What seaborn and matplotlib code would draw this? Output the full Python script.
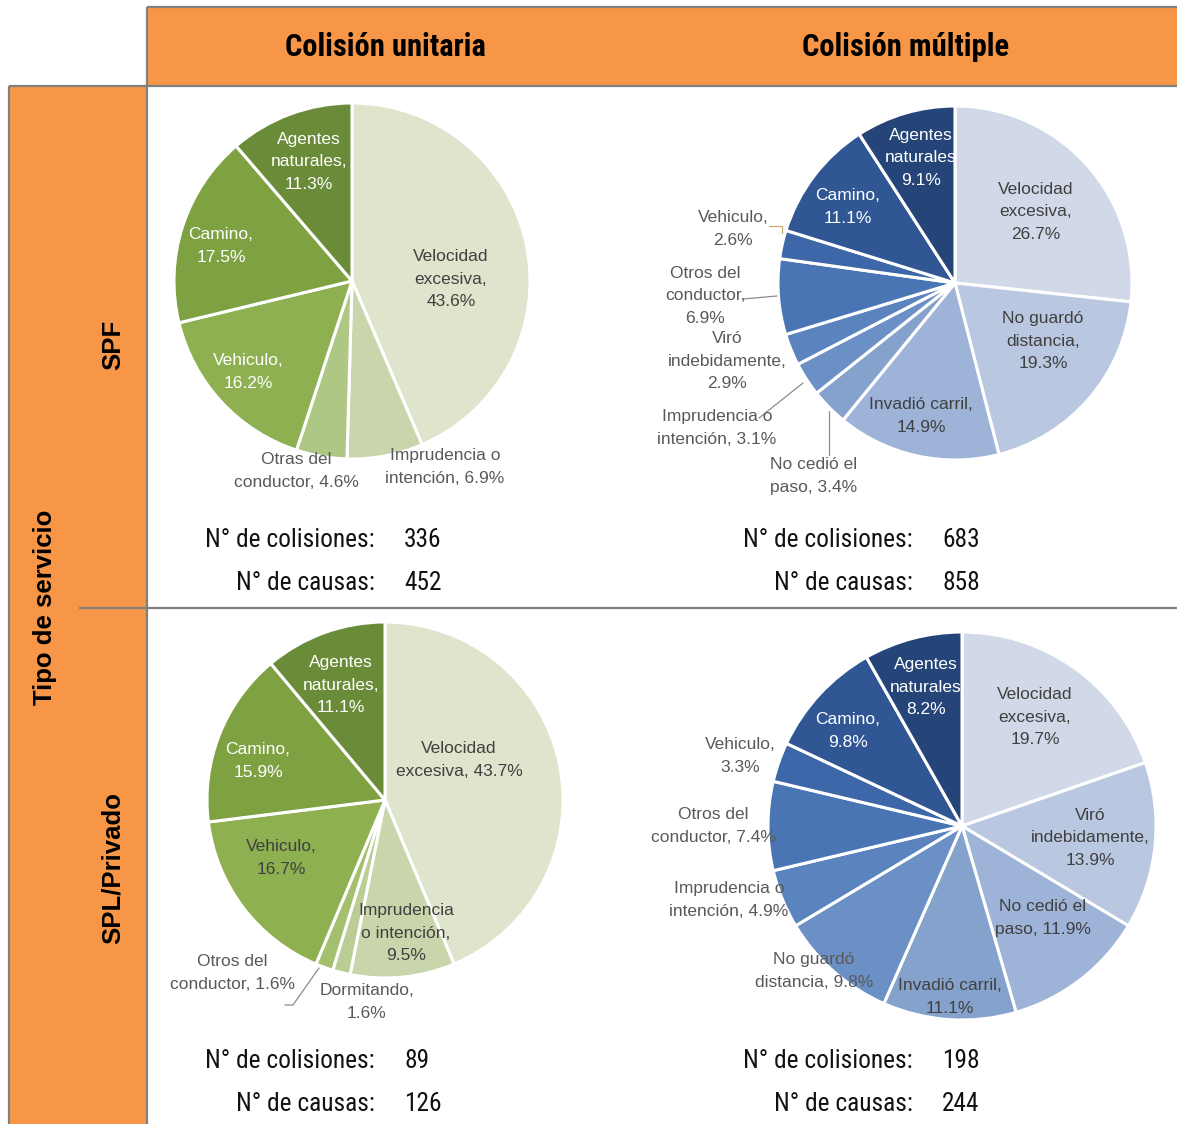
import matplotlib
matplotlib.use("Agg")
import matplotlib.pyplot as plt
import seaborn as sns
from matplotlib.patches import Rectangle
from matplotlib import font_manager

# ---------------- data ----------------
column_titles = ["Colisión unitaria", "Colisión múltiple"]
row_titles = ["SPF", "SPL/Privado"]
side_title = "Tipo de servicio"

spf_unit_causes = ["Velocidad excesiva", "Imprudencia o intención", "Otras del conductor",
                   "Vehiculo", "Camino", "Agentes naturales"]
spf_unit_pct = [43.6, 6.9, 4.6, 16.2, 17.5, 11.3]

spf_mult_causes = ["Velocidad excesiva", "No guardó distancia", "Invadió carril",
                   "No cedió el paso", "Imprudencia o intención", "Viró indebidamente",
                   "Otros del conductor", "Vehiculo", "Camino", "Agentes naturales"]
spf_mult_pct = [26.7, 19.3, 14.9, 3.4, 3.1, 2.9, 6.9, 2.6, 11.1, 9.1]

spl_unit_causes = ["Velocidad excesiva", "Imprudencia o intención", "Dormitando",
                   "Otros del conductor", "Vehiculo", "Camino", "Agentes naturales"]
spl_unit_pct = [43.7, 9.5, 1.6, 1.6, 16.7, 15.9, 11.1]

spl_mult_causes = ["Velocidad excesiva", "Viró indebidamente", "No cedió el paso",
                   "Invadió carril", "No guardó distancia", "Imprudencia o intención",
                   "Otros del conductor", "Vehiculo", "Camino", "Agentes naturales"]
spl_mult_pct = [19.7, 13.9, 11.9, 11.1, 9.8, 4.9, 7.4, 3.3, 9.8, 8.2]

n_colisiones = [336, 683, 89, 198]
n_causas = [452, 858, 126, 244]

# ---------------- style ----------------
sns.set_theme(style="white")
fams = {f.name for f in font_manager.fontManager.ttflist}
NARROW = next((f for f in ["Liberation Sans Narrow", "Arial Narrow", "Roboto Condensed",
                           "Archivo Narrow", "Pragati Narrow", "PT Sans Narrow"] if f in fams),
              "Liberation Sans")
REG = "Liberation Sans"
plt.rcParams["font.family"] = [REG, "DejaVu Sans"]

W, H = 1177, 1124
ORANGE = "#F79646"
GRID = "#808080"
TXT_IN = "#404040"
TXT_OUT = "#595959"

greens6 = ["#dfe4cc", "#c9d6ab", "#afc784", "#8eb050", "#7ea142", "#6a8b38"]
greens7 = ["#dfe4cc", "#c9d6ab", "#b9cd95", "#a4c06f", "#8eb050", "#7ea142", "#6a8b38"]
blues10 = ["#d1d9e9", "#b9c7e0", "#9db3d7", "#85a2cd", "#6b90c5",
           "#5b84bf", "#4a75b5", "#3d67a8", "#305694", "#254478"]

fig = plt.figure(figsize=(W / 100, H / 100), dpi=100)
ax = fig.add_axes([0, 0, 1, 1])


def Y(y):
    return H - y


def wrap(name, val, breaks, sep=","):
    words = (f"{name}{sep} {val:.1f}%").split(" ")
    out = ""
    for i, w in enumerate(words):
        if i > 0:
            out += "\n" if i in breaks else " "
        out += w
    return out


# each label: (dx, dy, breaks, colour, sep) relative to pie centre, px (y down)
W_, D_, O_ = "white", TXT_IN, TXT_OUT
panels = [
    dict(causes=spf_unit_causes, pct=spf_unit_pct, colors=greens6, c=(352, 281), r=178,
         labels=[(99, -2, (1, 2), D_, ","), (93, 186, (2,), O_, ","), (-56, 190, (2,), O_, ","),
                 (-104, 91, (1,), W_, ","), (-131, -35, (1,), W_, ","), (-43, -119, (1, 2), W_, ",")],
         leaders=[]),
    dict(causes=spf_mult_causes, pct=spf_mult_pct, colors=blues10, c=(955, 283), r=177,
         labels=[(81, -71, (1, 2), D_, ","), (88, 58, (2, 3), D_, ","), (-34, 133, (2,), D_, ","),
                 (-141, 193, (3,), O_, ","), (-238, 145, (2,), O_, ","), (-228, 78, (1, 2), O_, ","),
                 (-250, 13, (2, 3), O_, ","), (-222, -54, (1,), O_, ","), (-107, -76, (1,), W_, ","),
                 (-34, -125, (1, 2), W_, "")],
         leaders=[([(-186, -57), (-173, -57), (-173, -50)], "#c8a878"),
                  ([(-212, 16), (-178, 13)], "#8c8c8c"),
                  ([(-196, 135), (-152, 100)], "#8c8c8c"),
                  ([(-126, 172), (-126, 128)], "#8c8c8c")]),
    dict(causes=spl_unit_causes, pct=spl_unit_pct, colors=greens7, c=(385, 800), r=178,
         labels=[(74, -40, (1,), D_, ","), (21, 133, (1, 3), D_, ","), (-18, 202, (1,), O_, ","),
                 (-153, 173, (2,), O_, ","), (-104, 58, (1,), D_, ","), (-127, -39, (1,), W_, ","),
                 (-44, -115, (1, 2), W_, ",")],
         leaders=[([(-100, 205), (-92, 205), (-66, 168)], "#8c8c8c")]),
    dict(causes=spl_mult_causes, pct=spl_mult_pct, colors=blues10, c=(962, 826), r=194,
         labels=[(73, -109, (1, 2), D_, ","), (128, 12, (1, 2), D_, ","), (81, 92, (3,), D_, ","),
                 (-12, 171, (2,), D_, ","), (-148, 145, (2,), O_, ","), (-233, 74, (2,), O_, ","),
                 (-249, 0, (2,), O_, ","), (-222, -70, (1,), O_, ","), (-114, -95, (1,), W_, ","),
                 (-36, -139, (1, 2), W_, "")],
         leaders=[]),
]

# ---------------- table frame ----------------
ax.add_patch(Rectangle((147, Y(86)), W - 147, 79, facecolor=ORANGE, edgecolor="none", zorder=0))
ax.add_patch(Rectangle((9, 0), 138, Y(86), facecolor=ORANGE, edgecolor="none", zorder=0))
lw = 1.6
ax.plot([147, W], [Y(7), Y(7)], color=GRID, lw=lw, solid_capstyle="butt")
ax.plot([147, 147], [Y(7), 0], color=GRID, lw=lw, solid_capstyle="butt")
ax.plot([9, W], [Y(86), Y(86)], color=GRID, lw=lw, solid_capstyle="butt")
ax.plot([9, 9], [Y(86), 0], color=GRID, lw=lw, solid_capstyle="butt")
ax.plot([79, W], [Y(608), Y(608)], color=GRID, lw=lw, solid_capstyle="butt")

for t, x in zip(column_titles, [385, 906]):
    ax.text(x, Y(47), t, ha="center", va="center", fontsize=22, fontweight="bold",
            family=NARROW, color="black")
ax.text(45, Y(607), side_title, ha="center", va="center", rotation=90, fontsize=18.5,
        fontweight="bold", family=REG, color="black")
for t, y in zip(row_titles, [345, 868]):
    ax.text(113, Y(y), t, ha="center", va="center", rotation=90, fontsize=18.5,
            fontweight="bold", family=REG, color="black")

# ---------------- pies ----------------
for p in panels:
    cx, cy = p["c"]
    ax.pie(p["pct"], colors=sns.color_palette(p["colors"]), startangle=90, counterclock=False,
           center=(cx, Y(cy)), radius=p["r"], frame=True,
           wedgeprops=dict(edgecolor="white", linewidth=2.2))
    for name, val, (dx, dy, br, col, sep) in zip(p["causes"], p["pct"], p["labels"]):
        ax.text(cx + dx, Y(cy + dy), wrap(name, val, br, sep), ha="center", va="center",
                fontsize=12.5, color=col, linespacing=1.6, family=REG)
    for pts, lc in p["leaders"]:
        ax.plot([cx + a for a, b in pts], [Y(cy + b) for a, b in pts], color=lc, lw=0.9)

# ---------------- counts ----------------
stat_pos = [(375, 540), (913, 540), (375, 1061), (913, 1061)]
FS = 18.3
for (xr, y), nc, nk in zip(stat_pos, n_colisiones, n_causas):
    ax.text(xr, Y(y), "N° de colisiones:", ha="right", va="center", fontsize=FS, family=NARROW,
            color="#111111")
    ax.text(xr + 29, Y(y), f"{nc}", ha="left", va="center", fontsize=FS, family=NARROW,
            color="#111111")
    ax.text(xr, Y(y + 43), "N° de causas:", ha="right", va="center", fontsize=FS, family=NARROW,
            color="#111111")
    ax.text(xr + 29, Y(y + 43), f"{nk}", ha="left", va="center", fontsize=FS, family=NARROW,
            color="#111111")

ax.set_xlim(0, W)
ax.set_ylim(0, H)
ax.set_aspect("auto")
ax.axis("off")
fig.savefig("out.png", dpi=100, facecolor="white")
